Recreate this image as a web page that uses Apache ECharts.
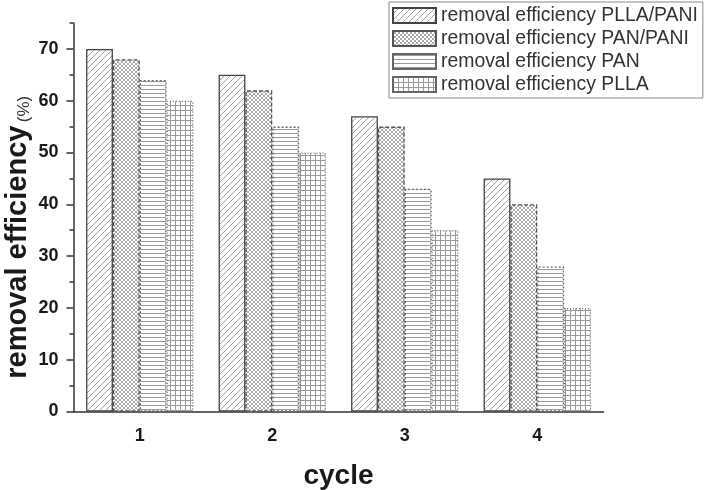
<!DOCTYPE html>
<html>
<head>
<meta charset="utf-8">
<script src="https://cdn.jsdelivr.net/npm/echarts@6/dist/echarts.min.js"></script>
<style>html,body{margin:0;padding:0;background:#fff}#c{width:710px;height:490px}</style>
</head>
<body>
<div id="c"></div>
<script>
var cycles = ['1', '2', '3', '4'];
var seriesNames = ['removal efficiency PLLA/PANI', 'removal efficiency PAN/PANI', 'removal efficiency PAN', 'removal efficiency PLLA'];
var pllaPani = [70, 65, 57, 45];
var panPani = [68, 62, 55, 40];
var pan = [64, 55, 43, 28];
var plla = [60, 50, 35, 20];
var yMajorTicks = [0, 10, 20, 30, 40, 50, 60, 70];
var yMinorTicks = [5, 15, 25, 35, 45, 55, 65, 75];

function makePattern(kind) {
  var s = kind === 'grid' ? 5 : (kind === 'diag' ? 6 : 4);
  var c = document.createElement('canvas');
  c.width = s; c.height = s;
  var g = c.getContext('2d');
  g.fillStyle = '#fff';
  g.fillRect(0, 0, s, s);
  g.strokeStyle = '#999';
  g.lineWidth = 0.9;
  g.beginPath();
  if (kind === 'diag') {
    g.moveTo(0, s); g.lineTo(s, 0);
    g.moveTo(-1, 1); g.lineTo(1, -1);
    g.moveTo(s - 1, s + 1); g.lineTo(s + 1, s - 1);
  } else if (kind === 'cross') {
    g.strokeStyle = '#a0a0a0';
    g.moveTo(0, s); g.lineTo(s, 0);
    g.moveTo(0, 0); g.lineTo(s, s);
  } else if (kind === 'horiz') {
    g.strokeStyle = '#9a9a9a';
    g.lineWidth = 1;
    g.moveTo(0, 1.5); g.lineTo(s, 1.5);
  } else if (kind === 'grid') {
    g.strokeStyle = '#999';
    g.lineWidth = 1;
    g.moveTo(0, 0.5); g.lineTo(s, 0.5);
    g.moveTo(0.5, 0); g.lineTo(0.5, s);
  }
  g.stroke();
  return c;
}

var styles = [
  { pat: 'diag', border: '#444', type: 'solid' },
  { pat: 'cross', border: '#555', type: [4, 2] },
  { pat: 'horiz', border: '#666', type: [2, 2] },
  { pat: 'grid', border: '#666', type: [1, 2] }
];
var values = [pllaPani, panPani, pan, plla];

var series = values.map(function (v, i) {
  return {
    name: seriesNames[i],
    type: 'bar',
    xAxisIndex: 0,
    yAxisIndex: 0,
    data: v,
    barGap: '0%',
    barCategoryGap: '19%',
    itemStyle: {
      color: { image: makePattern(styles[i].pat), repeat: 'repeat' },
      borderColor: styles[i].border,
      borderWidth: 1.3,
      borderType: styles[i].type
    },
    emphasis: { disabled: true }
  };
});

var chart = echarts.init(document.getElementById('c'), null, { renderer: 'canvas' });
var font = '"Liberation Sans", Arial, sans-serif';
chart.setOption({
  animation: false,
  backgroundColor: '#fff',
  textStyle: { fontFamily: font },
  grid: { left: 73.5, right: 106.5, top: 23, bottom: 78.5, containLabel: false, outerBoundsMode: 'none' },
  legend: {
    orient: 'vertical',
    left: 389,
    top: 2,
    padding: [4, 5, 4, 3],
    icon: 'rect',
    itemWidth: 43,
    itemHeight: 15,
    itemGap: 4,
    borderColor: '#888',
    borderWidth: 1,
    textStyle: { fontSize: 19.4, color: '#333', fontFamily: font },
    data: seriesNames
  },
  xAxis: [{
    type: 'category',
    data: cycles,
    position: 'bottom',
    axisLine: { lineStyle: { color: '#333', width: 1.5 } },
    axisTick: { alignWithLabel: true, length: 7, lineStyle: { color: '#333', width: 1.5 } },
    axisLabel: { fontSize: 18, fontWeight: 'bold', color: '#1a1a1a', margin: 16 },
    name: 'cycle',
    nameLocation: 'middle',
    nameGap: 51,
    nameMoveOverlap: false,
    nameTextStyle: { fontSize: 28, fontWeight: 'bold', color: '#1a1a1a' }
  }, {
    type: 'category',
    data: cycles,
    position: 'bottom',
    axisLine: { show: false },
    axisTick: { length: 4, lineStyle: { color: '#333', width: 1.5 } },
    axisLabel: { show: false }
  }],
  yAxis: [{
    type: 'value',
    min: 0,
    max: 75,
    interval: 10,
    splitLine: { show: false },
    axisLine: { show: true, lineStyle: { color: '#333', width: 1.5 } },
    axisTick: { show: true, length: 7, customValues: yMajorTicks, lineStyle: { color: '#333', width: 1.5 } },
    axisLabel: { customValues: yMajorTicks, fontSize: 18, fontWeight: 'bold', color: '#1a1a1a', margin: 15 },
    name: '{a|removal efficiency} {b|(%)}',
    nameLocation: 'middle',
    nameGap: 41,
    nameMoveOverlap: false,
    nameRotate: 90,
    nameTextStyle: {
      padding: [0, 40, 0, 0],
      rich: {
        a: { fontSize: 29, fontWeight: 'bold', color: '#1a1a1a', fontFamily: font },
        b: { fontSize: 17, color: '#333', fontFamily: font, verticalAlign: 'bottom' }
      }
    }
  }, {
    type: 'value',
    min: 0,
    max: 75,
    interval: 5,
    position: 'left',
    splitLine: { show: false },
    axisLine: { show: false },
    axisTick: { show: true, length: 4, customValues: yMinorTicks, lineStyle: { color: '#333', width: 1.5 } },
    axisLabel: { show: false }
  }],
  series: series
});
</script>
</body>
</html>
